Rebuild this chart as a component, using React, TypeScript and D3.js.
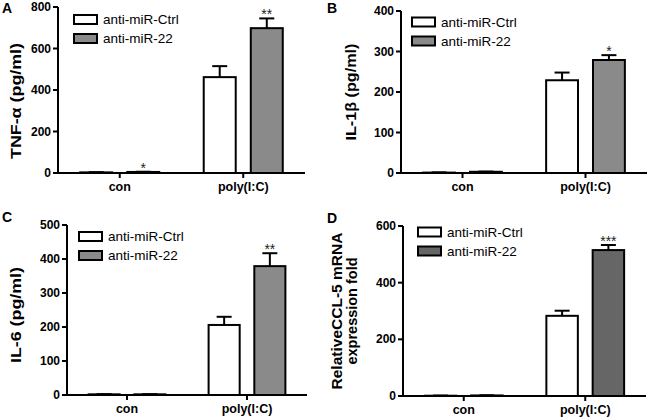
import React from "react";
import * as d3 from "d3";

const categories = ["con", "poly(I:C)"];
const seriesNames = ["anti-miR-Ctrl", "anti-miR-22"];

// Panel A: TNF-alpha
const tnfCtrl = [3, 462];
const tnfCtrlErr = [1, 53];
const tnf22 = [5, 698];
const tnf22Err = [1, 47];
const tnfSig = ["*", "**"];
const tnfTicks = [0, 200, 400, 600, 800];

// Panel B: IL-1beta
const il1bCtrl = [1, 229];
const il1bCtrlErr = [0.5, 19];
const il1b22 = [3, 279];
const il1b22Err = [0.5, 12];
const il1bSig = ["", "*"];
const il1bTicks = [0, 100, 200, 300, 400];

// Panel C: IL-6
const il6Ctrl = [2, 206];
const il6CtrlErr = [0.5, 24];
const il622 = [2, 379];
const il622Err = [0.5, 38];
const il6Sig = ["", "**"];
const il6Ticks = [0, 100, 200, 300, 400, 500];

// Panel D: CCL-5 mRNA
const cclCtrl = [1, 283];
const cclCtrlErr = [0.5, 18];
const ccl22 = [2, 515];
const ccl22Err = [0.5, 18];
const cclSig = ["", "***"];
const cclTicks = [0, 200, 400, 600];

const FONT = "'Liberation Sans', Arial, Helvetica, sans-serif";

type PanelProps = {
  letter: string;
  letterX: number;
  letterY: number;
  titleLines: string[];
  titleX: number[];
  titleY: number;
  titleLen: number[];
  x0: number;
  x1: number;
  yTop: number;
  yBot: number;
  ticks: number[];
  ctrl: number[];
  ctrlErr: number[];
  mir: number[];
  mirErr: number[];
  sig: string[];
  gray: string;
  legendX: number;
  legendY: number;
};

function Panel(p: PanelProps) {
  const maxV = p.ticks[p.ticks.length - 1];
  const y = d3.scaleLinear().domain([0, maxV]).range([p.yBot, p.yTop]);
  const xOuter = d3
    .scaleBand<string>()
    .domain(categories)
    .range([p.x0, p.x1])
    .paddingInner(0.36)
    .paddingOuter(0.18);
  const xInner = d3
    .scaleBand<string>()
    .domain(seriesNames)
    .range([0, xOuter.bandwidth()])
    .paddingInner(0.32)
    .paddingOuter(0);
  const series = [
    { name: seriesNames[0], vals: p.ctrl, errs: p.ctrlErr, fill: "#ffffff", sig: null as string[] | null },
    { name: seriesNames[1], vals: p.mir, errs: p.mirErr, fill: p.gray, sig: p.sig },
  ];
  const bw = xInner.bandwidth();
  return (
    <g>
      <text x={p.letterX} y={p.letterY} fontFamily={FONT} fontWeight="bold" fontSize={14}>
        {p.letter}
      </text>
      {p.titleLines.map((t, i) => (
        <text
          key={i}
          transform={`translate(${p.titleX[i]},${p.titleY}) rotate(-90)`}
          textAnchor="middle"
          dominantBaseline="central"
          fontFamily={FONT}
          fontWeight="bold"
          fontSize={15}
          textLength={p.titleLen[i]}
          lengthAdjust="spacingAndGlyphs"
        >
          {t}
        </text>
      ))}
      {series.map((s) =>
        categories.map((c, ci) => {
          const bx = (xOuter(c) as number) + (xInner(s.name) as number);
          const top = y(s.vals[ci]);
          const errTop = y(s.vals[ci] + s.errs[ci]);
          const cx = bx + bw / 2;
          return (
            <g key={s.name + c}>
              <line x1={cx} x2={cx} y1={top} y2={errTop} stroke="#000" strokeWidth={2} />
              <line x1={cx - 7.5} x2={cx + 7.5} y1={errTop} y2={errTop} stroke="#000" strokeWidth={2} />
              <rect
                x={bx}
                y={top}
                width={bw}
                height={Math.max(0, p.yBot - top)}
                fill={s.fill}
                stroke="#000"
                strokeWidth={2}
              />
              {s.sig && s.sig[ci] ? (
                <text
                  x={cx}
                  y={errTop + 1}
                  textAnchor="middle"
                  fontFamily={FONT}
                  fontSize={14}
                  fill="#222"
                >
                  {s.sig[ci]}
                </text>
              ) : null}
            </g>
          );
        })
      )}
      <line x1={p.x0} x2={p.x0} y1={p.yTop} y2={p.yBot + 1} stroke="#000" strokeWidth={2} />
      {p.ticks.map((t) => (
        <g key={t}>
          <line x1={p.x0 - 5} x2={p.x0} y1={y(t)} y2={y(t)} stroke="#000" strokeWidth={2} />
          <text
            x={p.x0 - 7}
            y={y(t)}
            textAnchor="end"
            dominantBaseline="central"
            fontFamily={FONT}
            fontWeight="bold"
            fontSize={12}
          >
            {t}
          </text>
        </g>
      ))}
      <line x1={p.x0 - 1} x2={p.x1} y1={p.yBot} y2={p.yBot} stroke="#000" strokeWidth={2} />
      {categories.map((c) => {
        const cx = (xOuter(c) as number) + xOuter.bandwidth() / 2;
        return (
          <g key={c}>
            <line x1={cx} x2={cx} y1={p.yBot} y2={p.yBot + 5} stroke="#000" strokeWidth={2} />
            <text
              x={cx}
              y={p.yBot + 18}
              textAnchor="middle"
              fontFamily={FONT}
              fontWeight="bold"
              fontSize={12.5}
            >
              {c}
            </text>
          </g>
        );
      })}
      {series.map((s, i) => (
        <g key={s.name} transform={`translate(${p.legendX},${p.legendY + i * 19})`}>
          <rect x={0} y={-4.5} width={23} height={9} fill={s.fill} stroke="#000" strokeWidth={2} />
          <text x={29} y={0} dominantBaseline="central" fontFamily={FONT} fontSize={13.5}>
            {s.name}
          </text>
        </g>
      ))}
    </g>
  );
}

export default function App() {
  return (
    <svg width={650} height={420} style={{ display: "block", position: "absolute", left: 0, top: 0 }}>
      <rect width={650} height={420} fill="#fff" />
      <Panel
        letter="A"
        letterX={2}
        letterY={13}
        titleLines={["TNF-\u03b1 (pg/ml)"]}
        titleX={[15]}
        titleY={101}
        titleLen={[116]}
        x0={58}
        x1={305}
        yTop={7}
        yBot={173}
        ticks={tnfTicks}
        ctrl={tnfCtrl}
        ctrlErr={tnfCtrlErr}
        mir={tnf22}
        mirErr={tnf22Err}
        sig={tnfSig}
        gray="#8a8a8a"
        legendX={74}
        legendY={19.5}
      />
      <Panel
        letter="B"
        letterX={327}
        letterY={13}
        titleLines={["IL-1\u03b2 (pg/ml)"]}
        titleX={[350]}
        titleY={92}
        titleLen={[97]}
        x0={401}
        x1={647}
        yTop={11}
        yBot={173}
        ticks={il1bTicks}
        ctrl={il1bCtrl}
        ctrlErr={il1bCtrlErr}
        mir={il1b22}
        mirErr={il1b22Err}
        sig={il1bSig}
        gray="#8a8a8a"
        legendX={412}
        legendY={22}
      />
      <Panel
        letter="C"
        letterX={2}
        letterY={222}
        titleLines={["IL-6 (pg/ml)"]}
        titleX={[15]}
        titleY={315}
        titleLen={[96]}
        x0={67}
        x1={307}
        yTop={225}
        yBot={395}
        ticks={il6Ticks}
        ctrl={il6Ctrl}
        ctrlErr={il6CtrlErr}
        mir={il622}
        mirErr={il622Err}
        sig={il6Sig}
        gray="#8a8a8a"
        legendX={79}
        legendY={236.5}
      />
      <Panel
        letter="D"
        letterX={327}
        letterY={223}
        titleLines={["RelativeCCL-5 mRNA", "expression fold"]}
        titleX={[336, 351]}
        titleY={311}
        titleLen={[157, 107]}
        x0={403}
        x1={646}
        yTop={226}
        yBot={396}
        ticks={cclTicks}
        ctrl={cclCtrl}
        ctrlErr={cclCtrlErr}
        mir={ccl22}
        mirErr={ccl22Err}
        sig={cclSig}
        gray="#666666"
        legendX={418}
        legendY={232}
      />
    </svg>
  );
}
